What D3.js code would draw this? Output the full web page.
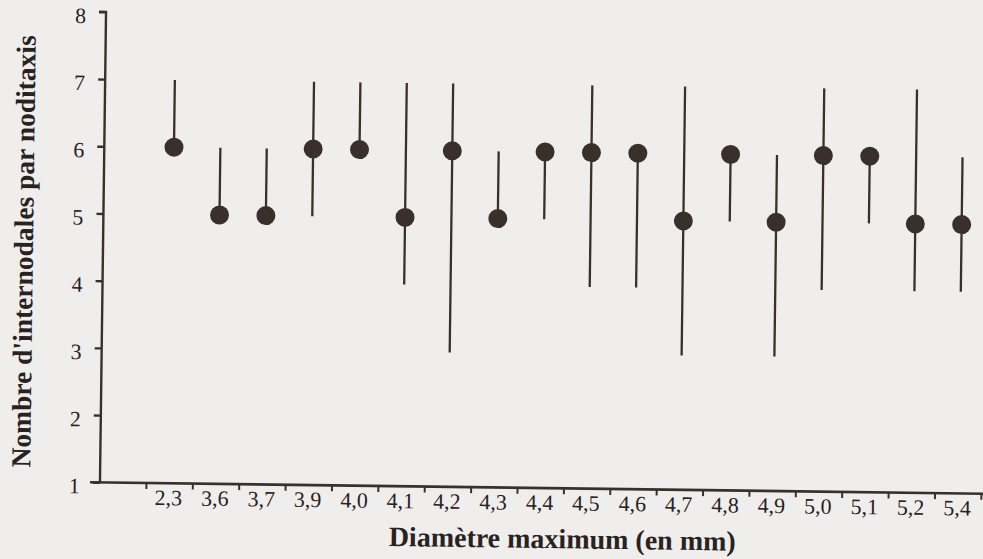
<!DOCTYPE html>
<html><head><meta charset="utf-8">
<script src="https://cdn.jsdelivr.net/npm/d3@7"></script>
<style>
html,body{margin:0;padding:0;background:#f0eeec;}
svg{display:block;}
</style></head>
<body>
<svg id="c" width="983" height="559"></svg>
<script>
const categories = ["2,3","3,6","3,7","3,9","4,0","4,1","4,2","4,3","4,4","4,5","4,6","4,7","4,8","4,9","5,0","5,1","5,2","5,4"];
const meanValues = [6,5,5,6,6,5,6,5,6,6,6,5,6,5,6,6,5,5];
const minValues  = [6,5,5,5,6,4,3,5,5,4,4,3,5,3,4,5,4,4];
const maxValues  = [7,6,6,7,7,7,7,6,6,7,6,7,6,6,7,6,7,6];
const yTicks = [1,2,3,4,5,6,7,8];
const xTitle = "Diamètre maximum (en mm)";
const yTitle = "Nombre d'internodales par noditaxis";

const ink = "#3a302b";
const txt = "#2a221f";
const svg = d3.select("#c");
const g = svg.append("g").attr("transform","rotate(0.74,540,250)");

const x = d3.scaleBand().domain(categories).range([149.5, 984.5]).padding(0);
const y = d3.scaleLinear().domain([1, 8]).range([488, 17.5]);
const axisX = 103;

// y axis
const ya = g.append("g").attr("transform",`translate(${axisX},0)`)
  .call(d3.axisLeft(y).tickValues(yTicks).tickSize(7).tickPadding(13).tickFormat(d3.format("d")));
ya.select(".domain").attr("d", `M-7,${y(8)}H0V${y(1)}`).attr("stroke", ink).attr("stroke-width", 2.4);
ya.selectAll(".tick line").attr("stroke", ink).attr("stroke-width", 2.4);
ya.selectAll(".tick text").attr("fill", txt).attr("dy","0.36em").attr("y", 3)
  .style("font-family","'Liberation Serif', serif").style("font-size","22px");

// x axis
const xa = g.append("g").attr("transform",`translate(0,${y(1)})`);
xa.append("line").attr("x1", axisX - 10).attr("x2", 1000).attr("y1",0).attr("y2",0)
  .attr("stroke", ink).attr("stroke-width", 2.6);
xa.selectAll("line.tk").data(categories).join("line").attr("class","tk")
  .attr("x1", d => x(d)).attr("x2", d => x(d)).attr("y1", 0).attr("y2", 6)
  .attr("stroke", ink).attr("stroke-width", 2);
xa.append("line").attr("x1", x.range()[1]).attr("x2", x.range()[1]).attr("y1",0).attr("y2",6)
  .attr("stroke", ink).attr("stroke-width", 2);
xa.selectAll("text.lb").data(categories).join("text").attr("class","lb")
  .attr("x", d => x(d) + x.bandwidth()/2 - 1).attr("y", 22)
  .attr("text-anchor","middle").attr("fill", txt)
  .style("font-family","'Liberation Serif', serif").style("font-size","22px")
  .text(d => d);

// range lines
g.selectAll("line.rng").data(categories).join("line").attr("class","rng")
  .attr("x1", d => x(d) + x.bandwidth()/2).attr("x2", d => x(d) + x.bandwidth()/2)
  .attr("y1", (d,i) => y(minValues[i])).attr("y2", (d,i) => y(maxValues[i]))
  .attr("stroke", ink).attr("stroke-width", 2.3);
// dots
g.selectAll("circle.pt").data(categories).join("circle").attr("class","pt")
  .attr("cx", d => x(d) + x.bandwidth()/2).attr("cy", (d,i) => y(meanValues[i]))
  .attr("r", 9.5).attr("fill", ink);

// titles
g.append("text").attr("x", 566).attr("y", 548).attr("text-anchor","middle")
  .attr("fill", txt).style("font-family","'Liberation Serif', serif")
  .style("font-size","28px").style("font-weight","bold").text(xTitle);
g.append("text").attr("transform","translate(33,258) rotate(-90)").attr("text-anchor","middle")
  .attr("fill", txt).style("font-family","'Liberation Serif', serif")
  .style("font-size","27.5px").style("font-weight","bold").text(yTitle);
</script>
</body></html>
